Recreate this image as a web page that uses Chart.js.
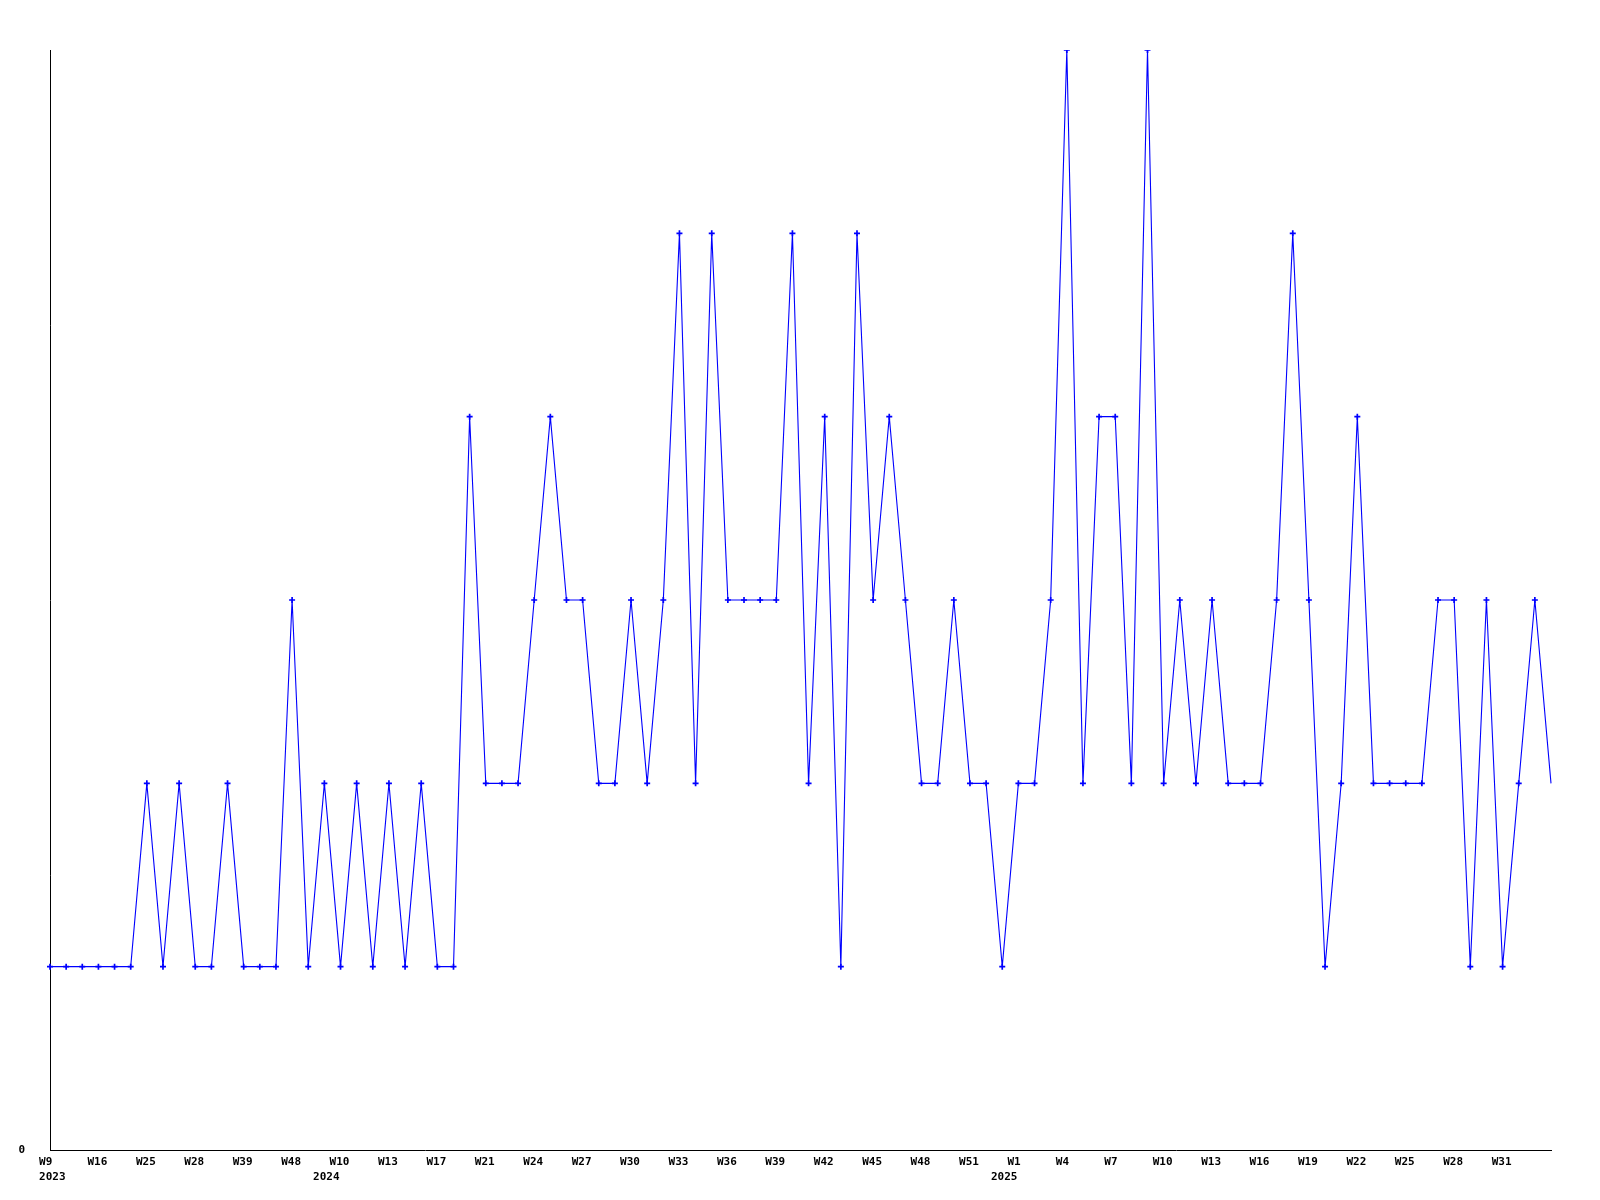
<!DOCTYPE html>
<html>
<head>
<meta charset="utf-8">
<script src="https://cdn.jsdelivr.net/npm/chart.js@4/dist/chart.umd.min.js"></script>
<style>
  html, body { margin: 0; padding: 0; background: #ffffff; }
  #wrap { width: 1600px; height: 1200px; position: relative; }
</style>
</head>
<body>
<div id="wrap"><canvas id="c" width="1600" height="1200"></canvas></div>
<script>
// Weekly values (one per point)
const values = [
  1,1,1,1,1,1,2,1,2,1,1,2,1,1,1,3,1,2,1,2,1,2,1,2,1,1,4,2,2,2,
  3,4,3,3,2,2,3,2,3,5,2,5,3,3,3,3,5,2,4,1,5,3,4,3,2,2,3,2,2,1,
  2,2,3,6,2,4,4,2,6,2,3,2,3,2,2,2,3,5,3,1,2,4,2,2,2,2,3,3,1,3,
  1,2,3,2
];
// Tick labels shown on the x axis (every third point): [week, year] or week
const tickLabels = [
  ["W9","2023"],"W16","W25","W28","W39","W48",["W10","2024"],"W13","W17","W21",
  "W24","W27","W30","W33","W36","W39","W42","W45","W48","W51",
  ["W1","2025"],"W4","W7","W10","W13","W16","W19","W22","W25","W28","W31"
];
const tickEvery = 3;
// Category labels for every point
const categories = values.map((_, i) => (i % tickEvery === 0 && tickLabels[i / tickEvery] !== undefined) ? tickLabels[i / tickEvery] : "");
// Y axis range and ticks
const yMin = 0, yMax = 6;
const yTicks = [0];

const FONT = { family: '"DejaVu Sans Mono", "Liberation Mono", monospace', size: 11, weight: 'bold', lineHeight: 15/11 };

new Chart(document.getElementById('c'), {
  type: 'line',
  data: {
    labels: categories,
    datasets: [{
      data: values,
      borderColor: '#0000ff',
      backgroundColor: '#0000ff',
      borderWidth: 1.1,
      tension: 0,
      fill: false,
      pointStyle: 'cross',
      pointRadius: ctx => ctx.dataIndex === values.length - 1 ? 0 : 3,
      pointBorderWidth: 1.7,
      pointBorderColor: '#0000ff',
      pointHoverRadius: 3
    }]
  },
  options: {
    responsive: false,
    animation: false,
    devicePixelRatio: 1,
    layout: { padding: { top: 50, right: 49, left: 0, bottom: 0 } },
    plugins: { legend: { display: false }, tooltip: { enabled: false } },
    scales: {
      x: {
        type: 'category',
        offset: false,
        grid: { display: false, drawTicks: false },
        border: { display: true, color: '#000000', width: 1 },
        ticks: {
          autoSkip: false,
          maxRotation: 0,
          minRotation: 0,
          align: 'center',
          labelOffset: -1,
          padding: 5,
          color: '#000000',
          font: FONT,
          callback: function (value, index) {
            const raw = this.getLabelForValue(value);
            if (!raw) return '';
            if (Array.isArray(raw)) {
              const [wk, yr] = raw;
              // year line sits a little left of the week label, except at the left edge
              return [wk.padEnd(3), index === 0 ? ' ' + yr : yr.padEnd(8)];
            }
            return String(raw).padEnd(3);
          }
        },
        afterFit: s => { s.height = 50; s.paddingLeft = 0; s.paddingRight = 0; }
      },
      y: {
        min: yMin,
        max: yMax,
        grid: { display: false, drawTicks: false },
        border: { display: true, color: '#000000', width: 1 },
        afterBuildTicks: s => { s.ticks = yTicks.map(v => ({ value: v })); },
        ticks: {
          padding: 25,
          color: '#000000',
          font: FONT,
          callback: v => String(v)
        },
        afterFit: s => { s.width = 50; s.paddingTop = 0; s.paddingBottom = 0; }
      }
    }
  }
});
</script>
</body>
</html>
